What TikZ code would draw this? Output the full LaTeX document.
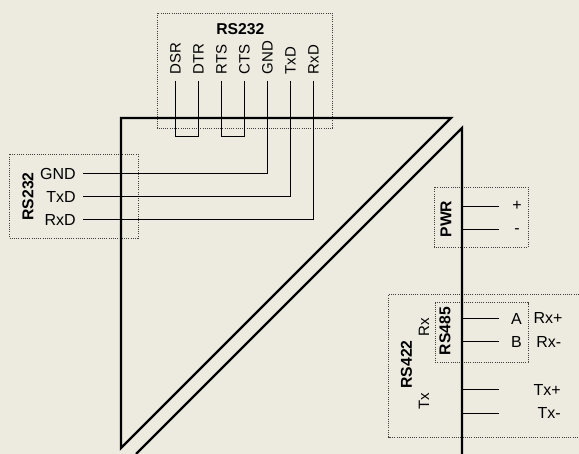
\documentclass[tikz,border=0pt]{standalone}
\usepackage{fontspec}
\setmainfont{Liberation Sans}
\definecolor{bgc}{HTML}{EDEAE0}
\definecolor{ink}{HTML}{000000}
\tikzset{
  thickline/.style={draw=black,line width=2.4pt,line join=miter},
  wire/.style={draw=ink,line width=1.3pt},
  dotbox/.style={draw=black!75,line width=0.9pt,dash pattern=on 1pt off 1.2pt},
  lbl/.style={inner sep=0pt,font=\fontsize{15}{15}\selectfont,text=ink},
  hlbl/.style={inner sep=0pt,font=\fontsize{16}{16}\selectfont,text=ink},
  blbl/.style={inner sep=0pt,font=\fontsize{15.7}{15.7}\selectfont\bfseries,text=ink},
}
\begin{document}
\begin{tikzpicture}[x=1pt,y=-1pt]
\useasboundingbox (0,0) rectangle (579,454);
\fill[bgc] (0,0) rectangle (579,454);
% dotted groups
\draw[dotbox] (157,13) rectangle (332.5,128);
\draw[dotbox] (9.5,154.5) rectangle (138,238);
\draw[dotbox] (434,187) rectangle (528,247);
\draw[dotbox] (579,294.5) -- (388.5,294.5) -- (388.5,437) -- (579,437);
\draw[dotbox] (435,302.7) rectangle (528,362);
% top connector pins
\foreach \n/\x/\t in {dsr/175.5/DSR,dtr/198.5/DTR,rts/221.5/RTS,cts/244.5/CTS,gnd/267.5/GND,txd/290.5/TxD,rxd/313.5/RxD}{
  \node[lbl,rotate=90,anchor=west] (\n) at (\x,74.5) {\t};
  \coordinate (\n s) at (\x,81);
}
\node[blbl] (rs232top) at (240.3,29.5) {RS232};
\coordinate (dsrb) at (175.5,136.5);
\coordinate (dtrb) at (198.5,136.5);
\coordinate (rtsb) at (221.5,136.5);
\coordinate (ctsb) at (244.5,136.5);
% left connector
\node[blbl,rotate=90] (rs232left) at (28,196.5) {RS232};
\node[hlbl,anchor=east] (lgnd) at (76,173.7) {GND};
\node[hlbl,anchor=east] (ltxd) at (76,197) {TxD};
\node[hlbl,anchor=east] (lrxd) at (76,219.7) {RxD};
\coordinate (lgnds) at (83,173.5);
\coordinate (ltxds) at (83,196.5);
\coordinate (lrxds) at (83,219.5);
% wires
\draw[wire] (dsrs) -- (dsrb) -- (dtrb) -- (dtrs);
\draw[wire] (rtss) -- (rtsb) -- (ctsb) -- (ctss);
\draw[wire] (gnds) |- (lgnds);
\draw[wire] (txds) |- (ltxds);
\draw[wire] (rxds) |- (lrxds);
% triangle + slash
\coordinate (ta) at (121,118);
\coordinate (tb) at (451,118);
\coordinate (tc) at (121,448);
\coordinate (ua) at (462,128);
\coordinate (ub) at (462,454);
\coordinate (uc) at (136,454);
\draw[thickline] (ta) -- (tb) -- (tc) -- cycle;
\draw[thickline] (uc) -- (ua) -- (ub);
% right stubs
\foreach \n/\y in {pwa/206.5,pwb/229.5,ra/318.5,rb/341.5,ta/389.5,tb/413.5}{
  \coordinate (\n l) at (462,\y);
  \coordinate (\n r) at (498.5,\y);
  \draw[wire] (\n l) -- (\n r);
}
% right labels
\node[blbl,rotate=90] (pwr) at (446,219) {PWR};
\node[hlbl] (plus) at (517,205.5) {+};
\node[hlbl] (minus) at (517,231) {-};
\node[blbl,rotate=90] (rs485) at (445,331) {RS485};
\node[lbl,rotate=90] (rx) at (424,327.5) {Rx};
\node[blbl,rotate=90] (rs422) at (406.5,364.5) {RS422};
\node[lbl,rotate=90] (tx) at (424,401) {Tx};
\node[hlbl] (a) at (516.5,318.5) {A};
\node[hlbl] (b) at (516.5,342) {B};
\node[hlbl,anchor=east] (rxp) at (562.7,318) {Rx+};
\node[hlbl,anchor=east] (rxm) at (561.5,342) {Rx-};
\node[hlbl,anchor=east] (txp) at (561,390) {Tx+};
\node[hlbl,anchor=east] (txm) at (561,413) {Tx-};
\end{tikzpicture}
\end{document}
